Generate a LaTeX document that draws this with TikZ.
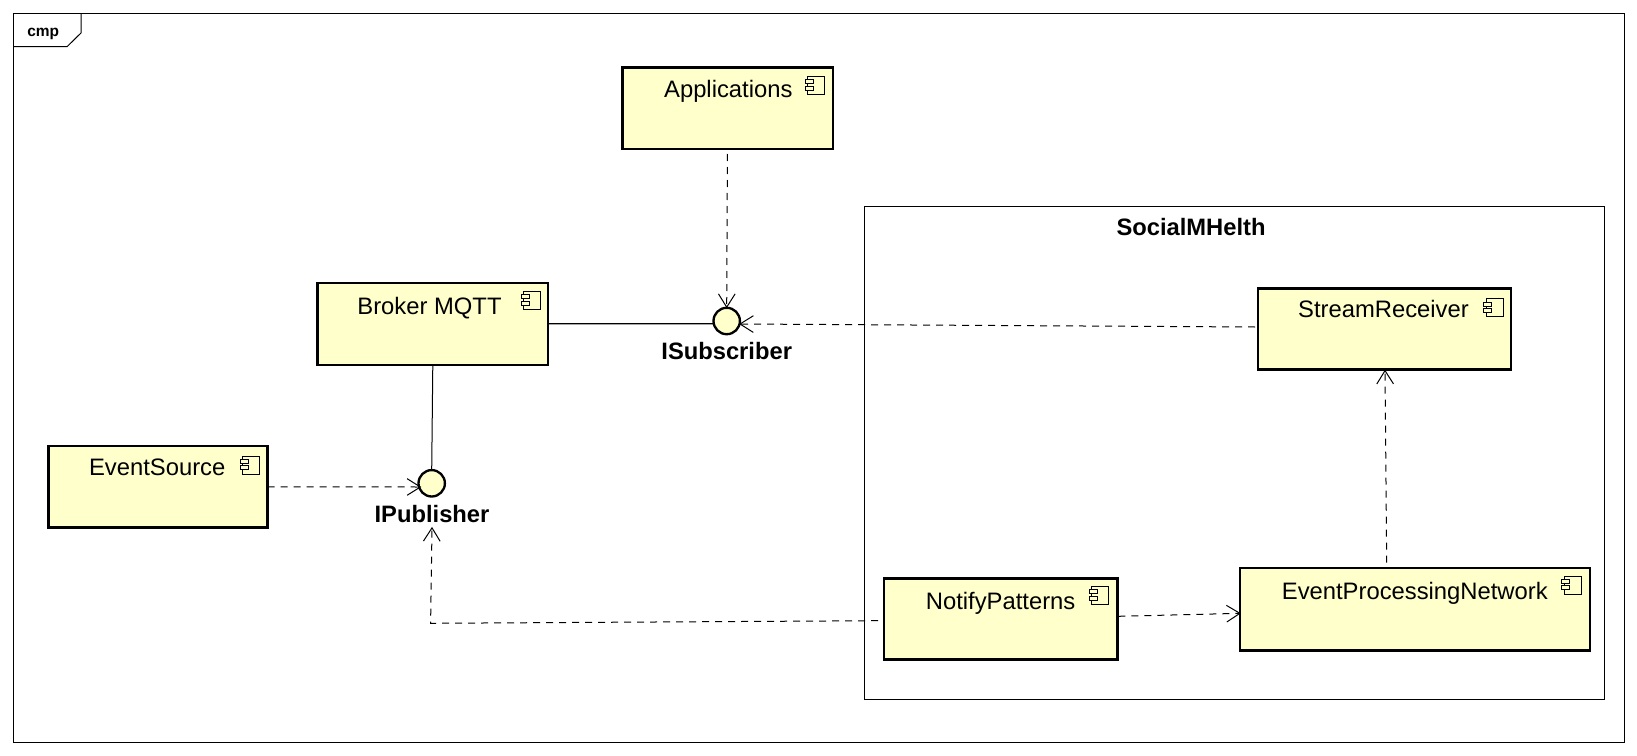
\documentclass[tikz,border=0pt]{standalone}
\usepackage{fontspec}
\setmainfont{Liberation Sans}
\usetikzlibrary{arrows.meta,calc,fit}
\definecolor{compfill}{RGB}{255,255,204}
\tikzset{
  x=0.75pt,y=-0.75pt,
  framebox/.style={draw=black,line width=0.75pt},
  compbox/.style={draw=black,fill=compfill,line width=2.2pt,inner sep=0pt,outer sep=0pt,rectangle},
  iface/.style={draw=black,fill=compfill,line width=1.75pt,circle,inner sep=0pt,outer sep=0pt,minimum size=19.8pt},
  comptext/.style={anchor=base,inner sep=0pt,outer sep=0pt,font=\fontsize{17.85}{20}\selectfont},
  boldtext/.style={anchor=base,inner sep=0pt,outer sep=0pt,font=\fontsize{17.8}{20}\selectfont\bfseries},
  tagtext/.style={anchor=base,inner sep=0pt,outer sep=0pt,font=\fontsize{11.6}{14}\selectfont\bfseries},
  iconline/.style={draw=black,line width=0.75pt},
  iconpart/.style={draw=black,fill=compfill,line width=0.75pt},
  dep/.style={draw=black,line width=0.75pt,dash pattern=on 5.25pt off 4.5pt,shorten >=-1pt,
     -{Straight Barb[length=10pt,width=12.5pt,line width=0.75pt]}},
  assoc/.style={draw=black,line width=0.75pt},
}
\newcommand{\compnode}[9]{%
  \node[compbox,fit={(#2,#3)(#4,#5)}] (#1) {};
  \node[comptext] (#1T) at (#7,#8) {#6};
  \compicon#9
}
\def\compicon(#1,#2){%
  \draw[iconline] (#1,#2) rectangle (#1+17,#2+18);
  \draw[iconpart] (#1-2.3,#2+3.3) rectangle (#1+5.7,#2+7.3);
  \draw[iconpart] (#1-2.3,#2+9.7) rectangle (#1+5.7,#2+13.7);
}
\begin{document}
\begin{tikzpicture}
\useasboundingbox (0,0) rectangle (1637,756);
\fill[white] (0,0) rectangle (1637,756);
% outer frame
\draw[framebox] (13.5,13.5) rectangle (1624,742);
\draw[framebox] (13.5,46.7) -- (67,46.7) -- (81,33) -- (81,13.5);
\node[tagtext] (cmp) at (43.2,36.5) {cmp};
% subsystem
\node[framebox,rectangle,inner sep=0pt,outer sep=0pt,fit={(864.3,206)(1604.7,699.5)}] (social) {};
\node[boldtext] (socialT) at (1191,235.6) {SocialMHelth};
% components
\compnode{apps}{622.6}{67.2}{833}{149}{Applications}{728.3}{97.6}{(807.4,76.7)}
\compnode{broker}{317.6}{283}{548}{365}{Broker MQTT}{429.5}{314}{(523.5,291.5)}
\compnode{es}{48.3}{446}{267.7}{527.7}{EventSource}{157.2}{475.6}{(242.5,456)}
\compnode{sr}{1258}{288.7}{1511}{369.3}{StreamReceiver}{1383.5}{317.7}{(1486,298.7)}
\compnode{epn}{1240}{568}{1590}{650.7}{EventProcessingNetwork}{1414.8}{599}{(1564,576)}
\compnode{np}{884}{578.3}{1117.3}{659.7}{NotifyPatterns}{1000.6}{609}{(1091.7,586.3)}
% interfaces
\node[iface] (isub) at (726.7,321) {};
\node[boldtext] (isubT) at (726.7,359) {ISubscriber};
\node[iface] (ipub) at (431.7,483.3) {};
\node[boldtext] (ipubT) at (432,522) {IPublisher};
% connectors
\draw[assoc,line width=1pt] ($(broker.east)+(0,-0.3)$) -- ($(isub.west)+(0,2.7)$);
\draw[assoc] (broker.south) -- (ipub.north);
\draw[dep] ($(apps.south)+(-0.4,5)$) -- ($(isub.north)+(0,-1)$);
\draw[dep] ($(sr.west)+(-3,-2)$) -- ($(isub.east)+(0.5,3)$);
\draw[dep] (es.east) -- ($(ipub.west)+(1.5,3.7)$);
\draw[dep] ($(np.east)+(1,-2.7)$) -- ($(epn.west)+(-0.5,4)$);
\draw[dep] ($(epn.north)+(-28.3,-5.3)$) -- ($(sr.south)+(0.5,1.7)$);
\coordinate (bend) at (430.6,623.3);
\draw[dep] ($(np.west)+(-6,1.7)$) -- (bend) -- ($(ipubT.south)+(0,6)$);
\end{tikzpicture}
\end{document}
